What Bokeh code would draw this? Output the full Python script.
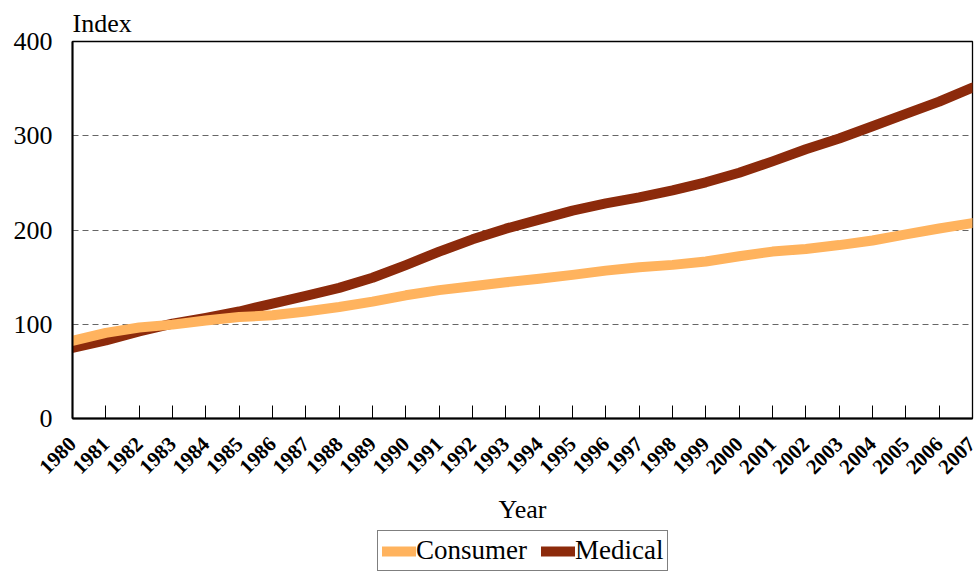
import math
from bokeh.plotting import figure
from bokeh.layouts import column
from bokeh.models import Range1d, FixedTicker, Legend, LegendItem
from bokeh.embed import file_html
from bokeh.resources import INLINE

years = list(range(1980, 2008))
consumer = [82.4, 90.9, 96.5, 99.6, 103.9, 107.6, 109.6, 113.6, 118.3, 124.0,
            130.7, 136.2, 140.3, 144.5, 148.2, 152.4, 156.9, 160.5, 163.0, 166.6,
            172.2, 177.1, 179.9, 184.0, 188.9, 195.3, 201.6, 207.3]
medical = [74.9, 82.9, 92.5, 100.6, 106.8, 113.5, 122.0, 130.1, 138.6, 149.3,
           162.8, 177.0, 190.1, 201.4, 211.0, 220.5, 228.2, 234.6, 242.1, 250.6,
           260.8, 272.8, 285.6, 297.1, 310.1, 323.2, 336.2, 351.1]
y_ticks = [0, 100, 200, 300, 400]
series_names = ["Consumer", "Medical"]

FONT = "Liberation Serif"
C_CONS = "#FFB35E"
C_MED = "#8C2A0B"

p = figure(frame_width=900, frame_height=377, x_range=Range1d(1980, 2007), y_range=Range1d(0, 400),
           output_backend="svg", toolbar_location=None,
           min_border_left=72, min_border_right=4, min_border_top=41, min_border_bottom=110)

p.title.text = "Index"
p.title.text_font = FONT
p.title.text_font_size = "26px"
p.title.text_font_style = "normal"
p.title.text_color = "black"
p.title.align = "left"
p.title.standoff = 8

p.line(years, medical, line_color=C_MED, line_width=10, line_cap="round", line_join="round")
p.line(years, consumer, line_color=C_CONS, line_width=10, line_cap="round", line_join="round")

p.outline_line_color = "black"
p.outline_line_width = 1.3

p.xgrid.visible = False
p.ygrid.ticker = FixedTicker(ticks=y_ticks)
p.ygrid.grid_line_color = "#666666"
p.ygrid.grid_line_dash = "6 4"
p.ygrid.grid_line_width = 1

xa = p.xaxis[0]
xa.ticker = FixedTicker(ticks=years)
xa.major_label_orientation = math.pi / 4
xa.major_label_text_font = FONT
xa.major_label_text_font_style = "bold"
xa.major_label_text_font_size = "21px"
xa.major_label_text_color = "black"
xa.major_label_standoff = 22
xa.major_tick_in = 13
xa.major_tick_out = 0
xa.minor_tick_line_color = None
xa.axis_line_color = "black"
xa.axis_line_width = 2
xa.major_tick_line_color = "black"
xa.axis_label = "Year"
xa.axis_label_text_font = FONT
xa.axis_label_text_font_size = "26px"
xa.axis_label_text_font_style = "normal"
xa.axis_label_text_color = "black"
xa.axis_label_standoff = 12

ya = p.yaxis[0]
ya.ticker = FixedTicker(ticks=y_ticks)
ya.major_label_text_font = FONT
ya.major_label_text_font_size = "26px"
ya.major_label_text_color = "black"
ya.major_label_standoff = 20
ya.major_tick_in = 0
ya.major_tick_out = 0
ya.minor_tick_line_color = None
ya.axis_line_color = "black"
ya.axis_line_width = 2

# legend strip below the chart (its frame is aligned with the chart's frame)
lg = figure(width=976, height=45, x_range=Range1d(0, 1), y_range=Range1d(0, 1),
            output_backend="svg", toolbar_location=None,
            x_axis_location=None, y_axis_location=None,
            min_border_left=0, min_border_right=0, min_border_top=0, min_border_bottom=0)
lg.outline_line_color = None
lg.grid.visible = False
# key swatches only: drawn outside the visible range so only the legend shows them
l_cons = lg.line([5, 6], [5, 6], line_color=C_CONS, line_width=10, line_cap="round")
l_med = lg.line([5, 6], [5, 6], line_color=C_MED, line_width=10, line_cap="round")

legend = Legend(items=[LegendItem(label=series_names[0], renderers=[l_cons]),
                       LegendItem(label=series_names[1], renderers=[l_med])],
                orientation="horizontal", location=(305, 2),
                label_text_font=FONT, label_text_font_size="27px", label_text_color="black",
                glyph_width=34, glyph_height=20, label_standoff=0, spacing=14,
                padding=4, margin=0, border_line_color="black", border_line_width=1.3,
                label_height=20)
lg.add_layout(legend, "center")

layout = column(p, lg, spacing=0)
open("out.html", "w").write(file_html(layout, INLINE))
